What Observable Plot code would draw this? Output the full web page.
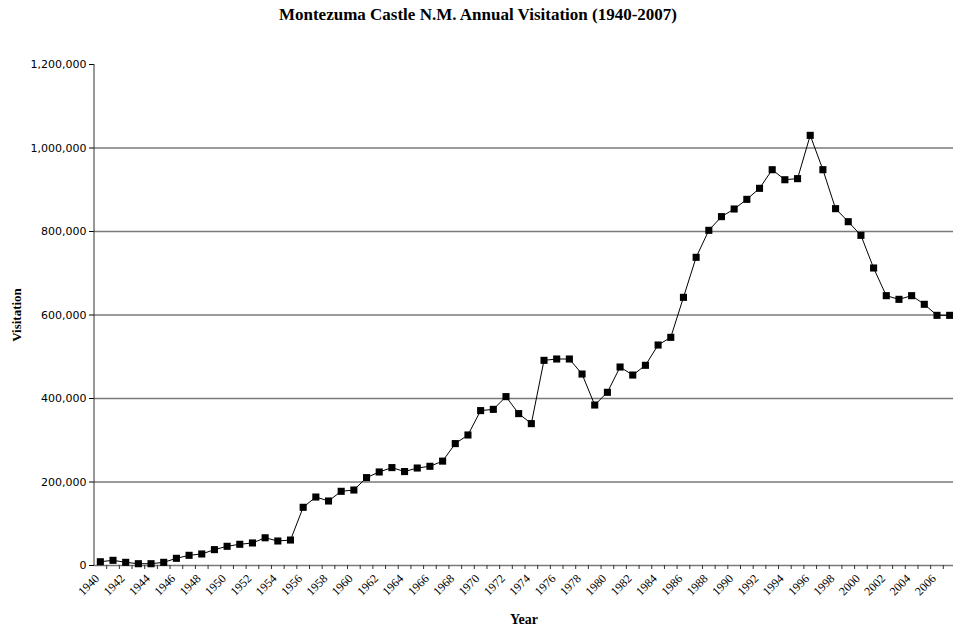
<!DOCTYPE html>
<html>
<head>
<meta charset="utf-8">
<script src="https://cdn.jsdelivr.net/npm/d3@7"></script>
<script src="https://cdn.jsdelivr.net/npm/@observablehq/plot@0.6"></script>
<style>
  html, body { margin: 0; padding: 0; background: #fff; }
  #title { height: 30px; width: 953px; text-align: center; font-family: "Liberation Serif", serif; font-weight: bold; font-size: 17px; line-height: 29px; color: #000; padding-left: 3px; box-sizing: border-box; }
  #chart svg { display: block; }
</style>
</head>
<body>
<div id="title">Montezuma Castle N.M. Annual Visitation (1940-2007)</div>
<div id="chart"></div>
<script>
const years = [1940,1941,1942,1943,1944,1945,1946,1947,1948,1949,
  1950,1951,1952,1953,1954,1955,1956,1957,1958,1959,
  1960,1961,1962,1963,1964,1965,1966,1967,1968,1969,
  1970,1971,1972,1973,1974,1975,1976,1977,1978,1979,
  1980,1981,1982,1983,1984,1985,1986,1987,1988,1989,
  1990,1991,1992,1993,1994,1995,1996,1997,1998,1999,
  2000,2001,2002,2003,2004,2005,2006,2007];
const visits = [9000,12400,7600,4300,4300,7600,17200,24400,27600,38000,
  46000,50800,54000,66400,58700,61000,139400,164000,154500,177700,
  180800,210500,224000,234500,225000,233500,237600,250000,292000,312600,
  371000,374000,404500,363800,339800,491400,494600,494600,458600,384400,
  414800,475400,456200,479500,528100,546500,642300,738200,802800,835600,
  853900,877000,903400,948000,924000,926600,1030300,948000,854700,823500,
  790800,712600,646300,637500,646300,625600,599200,599200];
const xTickLabels = [1940,1942,1944,1946,1948,1950,1952,1954,1956,1958,
  1960,1962,1964,1966,1968,1970,1972,1974,1976,1978,1980,1982,1984,1986,
  1988,1990,1992,1994,1996,1998,2000,2002,2004,2006];
const yTicks = [0,200000,400000,600000,800000,1000000,1200000];
const gridValues = [0,200000,400000,600000,800000,1000000];
const yTitle = "Visitation";
const xTitle = "Year";

const data = years.map((y, i) => ({year: y, visits: visits[i]}));
const bounds = years.map(y => y + 0.5);

const chart = Plot.plot({
  width: 953,
  height: 601,
  marginTop: 34,
  marginBottom: 66,
  marginLeft: 94,
  marginRight: 0,
  style: {fontFamily: "DejaVu Sans", fontSize: "11px", color: "#000", background: "#fff"},
  x: {domain: [1939.5, 2007.5], range: [93.5, 955.5], axis: null},
  y: {domain: [0, 1200000], range: [535, 34], ticks: yTicks, tickFormat: d3.format(","), tickSize: 5, tickPadding: 3, label: null},
  marks: [
    Plot.ruleY(gridValues, {stroke: "#7a7a7a", strokeWidth: 1.5}),
    Plot.ruleX(bounds, {y1: 0, y2: -9600, stroke: "#333", strokeWidth: 1}),
    Plot.ruleX([1939.5], {y1: 0, y2: 1200000, stroke: "#333", strokeWidth: 1}),
    Plot.line(data, {x: "year", y: "visits", stroke: "#000", strokeWidth: 1}),
    Plot.dot(data, {x: "year", y: "visits", symbol: "square", r: 4, fill: "#000", stroke: "none"}),
    Plot.text(xTickLabels, {x: d => d, y: 0, text: d => String(d), rotate: -45, textAnchor: "end", dx: -3, dy: 11, fontFamily: "Liberation Serif", fontSize: 12, fill: "#000"}),
    Plot.text([yTitle], {frameAnchor: "left", y: () => 600000, text: d => d, rotate: -90, textAnchor: "middle", dx: -78, fontFamily: "Liberation Serif", fontWeight: "bold", fontSize: 13, fill: "#000"}),
    Plot.text([xTitle], {frameAnchor: "bottom", text: d => d, dy: 58, fontFamily: "Liberation Serif", fontWeight: "bold", fontSize: 14, fill: "#000"})
  ]
});
document.getElementById("chart").appendChild(chart);
</script>
</body>
</html>
